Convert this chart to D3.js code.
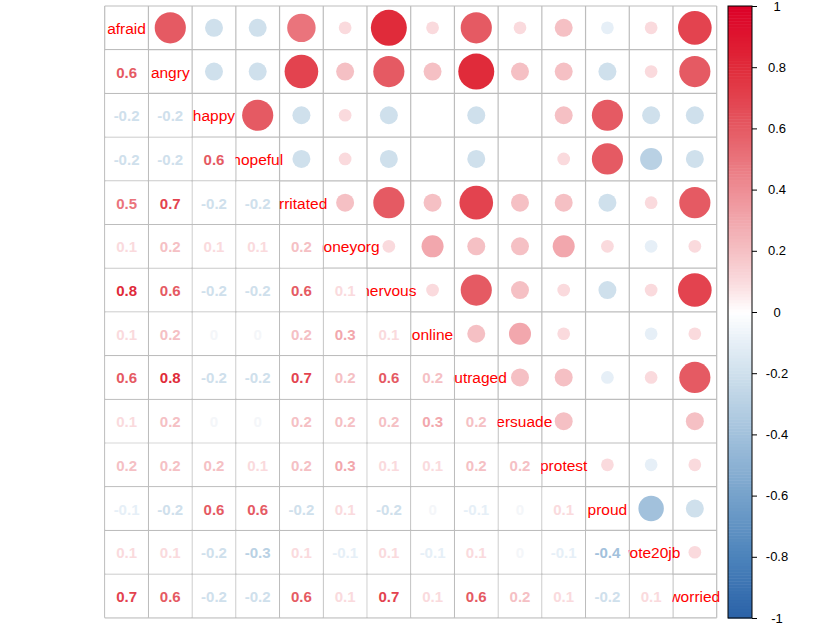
<!DOCTYPE html>
<html><head><meta charset="utf-8">
<script src="https://cdn.jsdelivr.net/npm/d3@7"></script>
<style>body{margin:0;background:#fff}svg{display:block}</style>
</head><body>
<svg id="c" width="821" height="631"></svg>
<script>
const variables = ["afraid","angry","happy","hopeful","irritated","moneyorg","nervous","online","outraged","persuade","protest","proud","vote20jb","worried"];
// lower triangle correlations, row i holds columns 0..i-1
const lowerTriangle = [
  [],
  [0.6],
  [-0.2,-0.2],
  [-0.2,-0.2,0.6],
  [0.5,0.7,-0.2,-0.2],
  [0.1,0.2,0.1,0.1,0.2],
  [0.8,0.6,-0.2,-0.2,0.6,0.1],
  [0.1,0.2,0,0,0.2,0.3,0.1],
  [0.6,0.8,-0.2,-0.2,0.7,0.2,0.6,0.2],
  [0.1,0.2,0,0,0.2,0.2,0.2,0.3,0.2],
  [0.2,0.2,0.2,0.1,0.2,0.3,0.1,0.1,0.2,0.2],
  [-0.1,-0.2,0.6,0.6,-0.2,0.1,-0.2,0,-0.1,0,0.1],
  [0.1,0.1,-0.2,-0.3,0.1,-0.1,0.1,-0.1,0.1,0,-0.1,-0.4],
  [0.7,0.6,-0.2,-0.2,0.6,0.1,0.7,0.1,0.6,0.2,0.1,-0.2,0.1]
];
const colorbarTicks = [1,0.8,0.6,0.4,0.2,0,-0.2,-0.4,-0.6,-0.8,-1];
const colorStops = [-1,-0.8,-0.6,-0.4,-0.2,-0.1,0,0.1,0.2,0.4,0.6,0.8,1];
const colorValues = ["#2a62a8","#4c83bb","#76a2cb","#a2c1dc","#cfe0ec","#e6eff7","#ffffff","#fadadd","#f5c0c4","#ee8e95","#e55a63","#e02b3a","#dc0026"];

const svg = d3.select("#c");
const font = "'Liberation Sans', Arial, sans-serif";
const color = d3.scaleLinear().domain(colorStops).range(colorValues).interpolate(d3.interpolateRgb);
const x = d3.scaleBand().domain(variables).range([104.7, 716.7]);
const y = d3.scaleBand().domain(variables).range([6, 617.8]);
const bw = x.bandwidth(), bh = y.bandwidth();

function corr(i, j){ if(i===j) return 1; return i>j ? lowerTriangle[i][j] : lowerTriangle[j][i]; }
function fmt(v){ if(v===0) return "0"; return d3.format(".1f")(v).replace("\u2212","-"); }

const cells = [];
variables.forEach((ri,i)=>variables.forEach((cj,j)=>cells.push({i,j,r:ri,c:cj,v:corr(i,j)})));

// background
svg.append("rect").attr("x",x.range()[0]).attr("y",y.range()[0]).attr("width",bw*14).attr("height",bh*14).attr("fill","#fff");

// upper circles
svg.append("g").selectAll("circle").data(cells.filter(d=>d.j>d.i)).join("circle")
  .attr("cx",d=>x(d.c)+bw/2).attr("cy",d=>y(d.r)+bh/2)
  .attr("r",d=>0.46*Math.sqrt(Math.abs(d.v))*bw)
  .attr("fill",d=>color(d.v));

// grid
const grid = svg.append("g").attr("stroke","#bdbdbd").attr("stroke-width",1.2);
d3.range(15).forEach(k=>{
  const xx = x.range()[0]+k*bw, yy = y.range()[0]+k*bh;
  grid.append("line").attr("x1",xx).attr("x2",xx).attr("y1",y.range()[0]).attr("y2",y.range()[1]);
  grid.append("line").attr("y1",yy).attr("y2",yy).attr("x1",x.range()[0]).attr("x2",x.range()[1]);
});

// diagonal labels
svg.append("g").selectAll("text").data(variables).join("text")
  .attr("x",d=>x(d)+bw/2).attr("y",d=>y(d)+bh/2+0.5)
  .attr("text-anchor","middle").attr("dominant-baseline","central")
  .attr("font-family",font).attr("font-size",15.5).attr("fill","#ff0000").text(d=>d);

// lower cells: white background + numbers
const lower = cells.filter(d=>d.i>d.j);
svg.append("g").selectAll("rect").data(lower).join("rect")
  .attr("x",d=>x(d.c)+0.6).attr("y",d=>y(d.r)+0.6).attr("width",bw-1.2).attr("height",bh-1.2).attr("fill","#fff");
svg.append("g").selectAll("text").data(lower).join("text")
  .attr("x",d=>x(d.c)+bw/2).attr("y",d=>y(d.r)+bh/2+0.5)
  .attr("text-anchor","middle").attr("dominant-baseline","central")
  .attr("font-family",font).attr("font-size",15).attr("font-weight","bold")
  .attr("fill",d=>d.v===0? "#f4f6f9" : color(d.v)).text(d=>fmt(d.v));

// colorbar
const cb = d3.scaleLinear().domain([-1,1]).range([618,6]);
const n = 200, step = 2/n;
const cbg = svg.append("g");
cbg.selectAll("rect").data(d3.range(n).map(k=>-1+k*step)).join("rect")
  .attr("x",728).attr("width",24)
  .attr("y",d=>cb(d+step)).attr("height",d=>cb(d)-cb(d+step)+0.5)
  .attr("fill",d=>color(d+step/2));
cbg.append("rect").attr("x",728).attr("y",6).attr("width",24).attr("height",612)
  .attr("fill","none").attr("stroke","#000").attr("stroke-width",1);
const ax = svg.append("g").attr("transform","translate(752,0)")
  .call(d3.axisRight(cb).tickValues(colorbarTicks).tickSize(5).tickFormat(d=>String(d)));
ax.select(".domain").remove();
ax.selectAll(".tick line").attr("stroke","#000");
ax.selectAll(".tick text").attr("x",25).attr("text-anchor","middle")
  .attr("font-family",font).attr("font-size",13).attr("fill","#000");
</script>
</body></html>
